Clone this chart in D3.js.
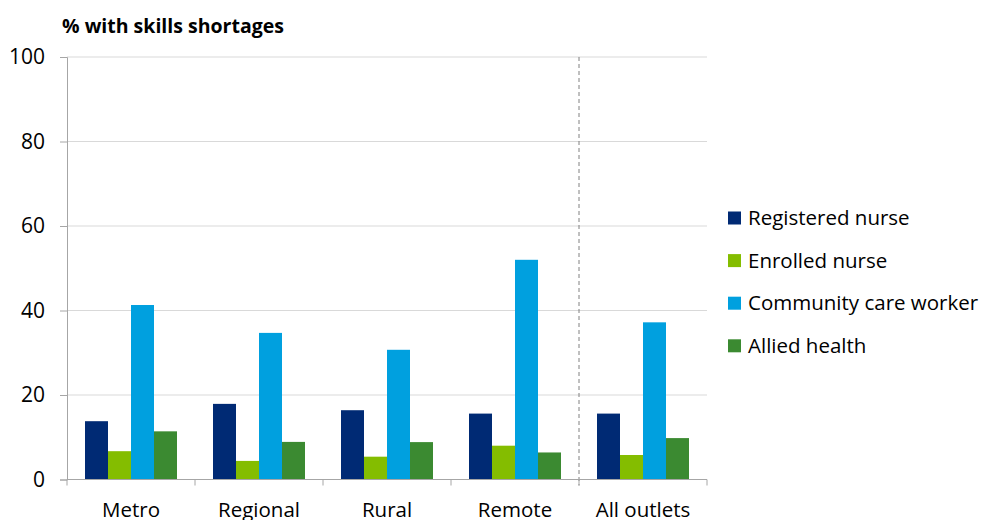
<!DOCTYPE html>
<html>
<head>
<meta charset="utf-8">
<script src="https://cdn.jsdelivr.net/npm/d3@7"></script>
<style>
  body { margin: 0; background: #fff; }
  svg { display: block; font-family: "Open Sans", sans-serif; }
</style>
</head>
<body>
<svg id="chart" width="985" height="520"></svg>
<script>
// Share of outlets reporting skills shortages, by remoteness
const categories = ["Metro", "Regional", "Rural", "Remote", "All outlets"];
const seriesNames = ["Registered nurse", "Enrolled nurse", "Community care worker", "Allied health"];
const registeredNurse = [13.8, 17.9, 16.4, 15.6, 15.6];
const enrolledNurse = [6.7, 4.4, 5.4, 8.0, 5.8];
const communityCareWorker = [41.3, 34.7, 30.7, 52.0, 37.2];
const alliedHealth = [11.4, 8.9, 8.85, 6.4, 9.8];
const yTicks = [0, 20, 40, 60, 80, 100];
const colors = ["#002A74", "#84BD00", "#00A0DF", "#3B8A31"];

const seriesValues = [registeredNurse, enrolledNurse, communityCareWorker, alliedHealth];

const svg = d3.select("#chart");
const margin = { left: 67, right: 278, top: 57, bottom: 40.5 };
const width = 985, height = 520;
const x0 = margin.left, x1 = width - margin.right;
const y0 = height - margin.bottom, y1 = margin.top;

const x = d3.scaleBand().domain(categories).range([x0, x1]).paddingInner(0).paddingOuter(0);
const groupPad = 18;
const inner = d3.scaleBand().domain(seriesNames).range([groupPad, x.bandwidth() - groupPad]).padding(0);
const y = d3.scaleLinear().domain([0, 100]).range([y0, y1]);

// gridlines
svg.append("g")
  .selectAll("line")
  .data(yTicks.filter(d => d > 0))
  .join("line")
  .attr("x1", x0).attr("x2", x1)
  .attr("y1", d => y(d)).attr("y2", d => y(d))
  .attr("stroke", "#d9d9d9").attr("stroke-width", 1);

// bars
const groups = svg.append("g")
  .selectAll("g")
  .data(categories)
  .join("g")
  .attr("transform", d => `translate(${x(d)},0)`);

groups.selectAll("rect")
  .data((c, ci) => seriesNames.map((s, si) => ({ s, si, v: seriesValues[si][ci] })))
  .join("rect")
  .attr("x", d => inner(d.s))
  .attr("width", inner.bandwidth())
  .attr("y", d => y(d.v))
  .attr("height", d => y(0) - y(d.v))
  .attr("fill", d => colors[d.si]);

// separator before the total group
const sepX = x("All outlets");
svg.append("line")
  .attr("x1", sepX).attr("x2", sepX)
  .attr("y1", y1).attr("y2", y0 + 6)
  .attr("stroke", "#808080").attr("stroke-width", 1)
  .attr("stroke-dasharray", "4,3");

// y axis
const yAxis = d3.axisLeft(y).tickValues(yTicks).tickSize(7).tickPadding(15);
const gy = svg.append("g").attr("transform", `translate(${x0},0)`).call(yAxis);
gy.select(".domain").attr("stroke", "#a6a6a6");
gy.selectAll(".tick line").attr("stroke", "#a6a6a6");
gy.selectAll(".tick text").attr("font-size", 21).attr("fill", "#000")
  .attr("font-family", "'Open Sans', sans-serif");

// x axis
const xAxis = d3.axisBottom(x).tickSize(0).tickPadding(23);
const gx = svg.append("g").attr("transform", `translate(0,${y0})`).call(xAxis);
gx.select(".domain").attr("stroke", "#a6a6a6").attr("d", `M${x0},0H${x1}`);
gx.selectAll(".tick text").attr("font-size", 20.5).attr("fill", "#000")
  .attr("font-family", "'Open Sans', sans-serif");
// boundary ticks between groups
svg.append("g")
  .selectAll("line")
  .data(categories.map(c => x(c)).concat([x1]))
  .join("line")
  .attr("x1", d => d).attr("x2", d => d)
  .attr("y1", y0).attr("y2", y0 + 6)
  .attr("stroke", "#a6a6a6");

// title
svg.append("text")
  .attr("x", 62).attr("y", 33)
  .attr("font-size", 19.5).attr("font-weight", "bold")
  .text("% with skills shortages");

// legend
const legend = svg.append("g")
  .selectAll("g")
  .data(seriesNames)
  .join("g")
  .attr("transform", (d, i) => `translate(728,${218 + i * 42.6})`);
legend.append("rect")
  .attr("x", 0).attr("y", -6.5).attr("width", 13).attr("height", 13)
  .attr("fill", (d, i) => colors[i]);
legend.append("text")
  .attr("x", 20).attr("y", 0).attr("dy", "0.35em")
  .attr("font-size", 20.5)
  .text(d => d);
</script>
</body>
</html>
